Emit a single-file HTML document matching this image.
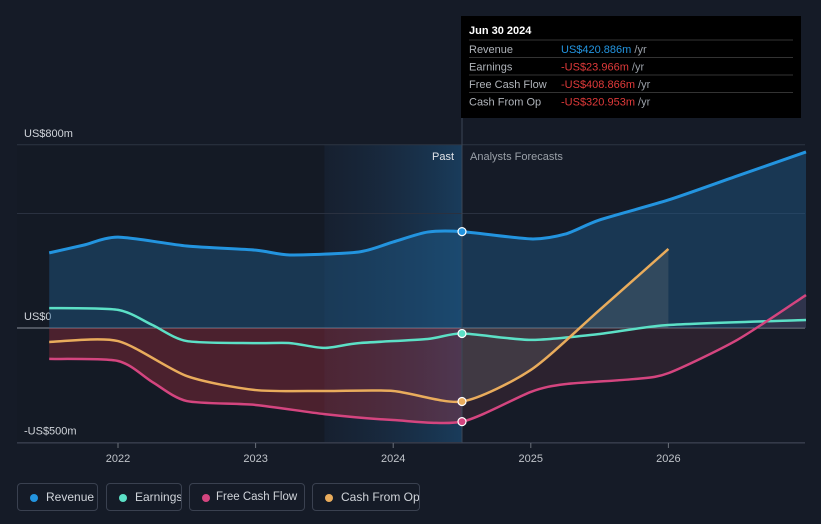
<!DOCTYPE html>
<html><head><meta charset="utf-8"><style>
body{margin:0;background:#151b27;font-family:"Liberation Sans",sans-serif;}
#wrap{position:relative;width:821px;height:524px;overflow:hidden;}
.leg{position:absolute;top:483px;height:28px;border:1px solid #3a4150;border-radius:4px;color:#d0d4da;font-size:12px;line-height:26px;box-sizing:border-box;padding-left:28px;white-space:nowrap;overflow:hidden;}
.leg i{position:absolute;left:12px;top:10px;width:8px;height:8px;border-radius:50%;}
</style></head><body>
<div id="wrap">
<svg id="svg" width="821" height="524"></svg>
<div class="leg" style="left:17px;width:81px"><i style="background:#2394df"></i>Revenue</div>
<div class="leg" style="left:106px;width:76px"><i style="background:#5ce0c6"></i>Earnings</div>
<div class="leg" style="left:189px;width:116px;padding-left:26px;font-size:11.5px"><i style="background:#d4457f"></i>Free Cash Flow</div>
<div class="leg" style="left:312px;width:108px"><i style="background:#e9ac5c"></i>Cash From Op</div>
</div>
<script>
const revT=[2021.5,2021.75,2022,2022.5,2023,2023.25,2023.75,2024,2024.25,2024.5,2025,2025.25,2025.5,2026,2026.5,2027];
const revV=[328,362,397,358,340,319,332,376,419,421,389,410,472,559,664,769];
const earnT=[2021.5,2022,2022.25,2022.5,2023,2023.25,2023.5,2023.75,2024.25,2024.5,2025,2025.5,2026,2027];
const earnV=[87,79,13,-57,-66,-66,-87,-66,-48,-24,-52,-26,13,35];
const fcfT=[2021.5,2022,2022.25,2022.5,2023,2023.5,2024,2024.5,2025,2025.25,2025.75,2026,2026.5,2027];
const fcfV=[-135,-144,-236,-319,-336,-376,-402,-409,-279,-245,-223,-197,-52,144];
const cfoT=[2021.5,2022,2022.5,2023,2023.5,2024,2024.5,2025,2025.5,2026];
const cfoV=[-61,-57,-210,-271,-275,-275,-321,-183,79,345];
const xTicks=[2022,2023,2024,2025,2026];
const yTicks=[{v:800,l:"US$800m"},{v:0,l:"US$0"},{v:-500,l:"-US$500m"}];
const X=t=>118+(t-2022)*137.6, Y=v=>328-v*0.229;
const NS="http://www.w3.org/2000/svg", svg=document.getElementById('svg');
function mk(tag,attrs,name,txt){const e=document.createElementNS(NS,tag);for(const k in attrs)e.setAttribute(k,attrs[k]);


if(txt)e.textContent=txt;svg.appendChild(e);return e;}
function pts(T,V){return T.map((t,i)=>[X(t),Y(V[i])]);}
function path(p){let d=`M${p[0][0]},${p[0][1]}`;for(let i=0;i<p.length-1;i++){const p0=p[i-1]||p[i],p1=p[i],p2=p[i+1],p3=p[i+2]||p2;
d+=`C${p1[0]+(p2[0]-p0[0])/8},${p1[1]+(p2[1]-p0[1])/8} ${p2[0]-(p3[0]-p1[0])/8},${p2[1]-(p3[1]-p1[1])/8} ${p2[0]},${p2[1]}`;}return d;}
const defs=mk('defs',{},'defs');
defs.innerHTML='<linearGradient id="pg" x1="0" x2="1"><stop offset="0" stop-color="#1a2c44" stop-opacity="0.3"/><stop offset="1" stop-color="#1a4468" stop-opacity="0.8"/></linearGradient>'+
'<clipPath id="past"><rect x="0" y="0" width="'+X(2024.5)+'" height="524"/></clipPath><clipPath id="fut"><rect x="'+X(2024.5)+'" y="0" width="400" height="524"/></clipPath>';
mk('rect',{x:17,y:145,width:X(2023.5)-17,height:298,fill:'#141a25'},'past-bg');
mk('rect',{x:X(2023.5),y:145,width:X(2024.5)-X(2023.5),height:298,fill:'url(#pg)'},'past-highlight');
yTicks.forEach(t=>{mk('line',{x1:17,x2:805,y1:Y(t.v),y2:Y(t.v),stroke:t.v==0?'#8a909a':'#2d3442'},'gridline');
mk('text',{x:24,y:Y(t.v)-8,fill:'#d0d4da','font-size':11},'y-tick-label',t.l);});
mk('line',{x1:17,x2:805,y1:Y(500),y2:Y(500),stroke:'#2a3140'},'gridline');
mk('line',{x1:17,x2:805,y1:443,y2:443,stroke:'#3a4150'},'x-axis');
xTicks.forEach(t=>{mk('line',{x1:X(t),x2:X(t),y1:443,y2:448,stroke:'#6a707a'},'x-tick');mk('text',{x:X(t),y:462,fill:'#c0c4ca','font-size':11,'text-anchor':'middle'},'x-tick-label',t);});
const rp=pts(revT,revV),z=Y(0);
const areaD=p=>path(p)+`L${p[p.length-1][0]},${z}L${p[0][0]},${z}Z`;
mk('path',{d:areaD(rp),fill:'#1f5a8a','fill-opacity':0.45},'revenue-area');
const fp=pts(fcfT,fcfV);
mk('path',{d:areaD(fp),fill:'#b2303f','fill-opacity':0.35,'clip-path':'url(#past)'},'fcf-area-past');
mk('path',{d:areaD(fp),fill:'#5a3040','fill-opacity':0.35,'clip-path':'url(#fut)'},'fcf-area-forecast');
const cp=pts(cfoT,cfoV);
mk('path',{d:areaD(cp),fill:'#7a8080','fill-opacity':0.25,'clip-path':'url(#fut)'},'cfo-area-forecast');
mk('path',{d:path(rp),fill:'none',stroke:'#2394df','stroke-width':3},'revenue-line');
mk('path',{d:path(pts(earnT,earnV)),fill:'none',stroke:'#5ce0c6','stroke-width':2.5},'earnings-line');
mk('path',{d:path(fp),fill:'none',stroke:'#d4457f','stroke-width':2.5},'fcf-line');
mk('path',{d:path(cp),fill:'none',stroke:'#e9ac5c','stroke-width':2.5},'cfo-line');
const xd=X(2024.5);
mk('line',{x1:xd,x2:xd,y1:16,y2:443,stroke:'#3a4656'},'divider');
mk('text',{x:xd-8,y:160,fill:'#e0e3e8','font-size':11,'text-anchor':'end'},'past-label','Past');
mk('text',{x:xd+8,y:160,fill:'#9aa0a8','font-size':11},'forecast-label','Analysts Forecasts');
[[421,'#2394df'],[-24,'#5ce0c6'],[-321,'#e9ac5c'],[-409,'#d4457f']].forEach(a=>mk('circle',{cx:xd,cy:Y(a[0]),r:4,fill:a[1],stroke:'#fff','stroke-width':1.2},'marker'));
mk('rect',{x:461,y:16,width:340,height:102,fill:'#000'},'tooltip');
mk('text',{x:469,y:34,fill:'#fff','font-size':11,'font-weight':'bold'},'tooltip-date','Jun 30 2024');
[['Revenue','US$420.886m','#2394df'],['Earnings','-US$23.966m','#e03a3a'],['Free Cash Flow','-US$408.866m','#e03a3a'],['Cash From Op','-US$320.953m','#e03a3a']].forEach((r,i)=>{const y=53+i*17.5;
mk('line',{x1:469,x2:793,y1:y-13,y2:y-13,stroke:'#333'},'tooltip-sep');
mk('text',{x:469,y:y,fill:'#b0b4ba','font-size':11},'tooltip-label',r[0]);
const t=mk('text',{x:561,y:y,fill:r[2],'font-size':11},'tooltip-value',r[1]);
const s=document.createElementNS(NS,'tspan');s.setAttribute('fill','#9aa0a8');s.textContent=' /yr';t.appendChild(s);});
</script></body></html>
